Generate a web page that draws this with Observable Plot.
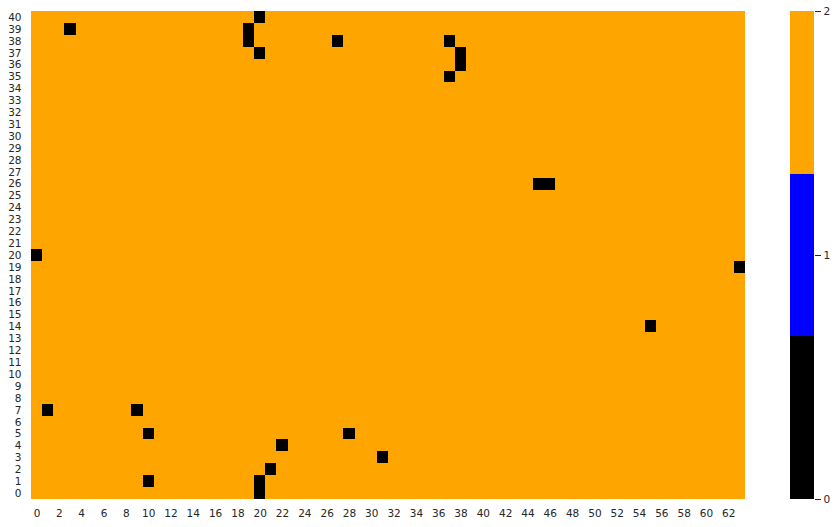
<!DOCTYPE html>
<html>
<head>
<meta charset="utf-8">
<script src="https://cdn.jsdelivr.net/npm/d3@7"></script>
<script src="https://cdn.jsdelivr.net/npm/@observablehq/plot@0.6"></script>
<style>
  html, body { margin: 0; padding: 0; background: #fff; }
  #wrap { position: relative; width: 837px; height: 527px; }
  #wrap svg { position: absolute; left: 0; top: 0; }
</style>
</head>
<body>
<div id="wrap"></div>
<script>
// Categories
const cols = d3.range(0, 64);
const rows = d3.range(0, 41);
const xTicks = d3.range(0, 64, 2);
// Cells whose value is 0 (all other cells are 2)
const zeroCells = [
  [20,40],[3,39],[19,39],[19,38],[20,37],[27,38],[37,38],[38,37],[38,36],[37,35],
  [45,26],[46,26],[0,20],[63,19],[55,14],
  [1,7],[9,7],[10,5],[28,5],[22,4],[31,3],[21,2],[10,1],[20,1],[20,0]
];
const baseValue = 2;
// Colour bar
const cbarValues = [0, 1, 2];
const cbarColors = ["#000000", "#0000ff", "#ffa500"];
const cbarTicks = [0, 1, 2];

const zeroSet = new Set(zeroCells.map(([c, r]) => c + "," + r));
const grid = rows.flatMap(r => cols.map(c => ({
  col: c, row: r, value: zeroSet.has(c + "," + r) ? 0 : baseValue
})));

const textStyle = {
  fontFamily: "DejaVu Sans, sans-serif",
  fontSize: "10.5px",
  color: "#262626",
  background: "transparent",
  overflow: "visible"
};

const main = Plot.plot({
  width: 837, height: 527,
  marginLeft: 31, marginRight: 92, marginTop: 11, marginBottom: 28,
  x: {type: "band", domain: cols, padding: 0, round: false},
  y: {type: "band", domain: rows.slice().reverse(), padding: 0, round: false},
  color: {type: "ordinal", domain: cbarValues, range: cbarColors},
  style: textStyle,
  marks: [
    Plot.cell(grid, {x: "col", y: "row", fill: "value", inset: 0, shapeRendering: "crispEdges"}),
    Plot.axisX(xTicks, {tickSize: 0, tickPadding: 10, label: null}),
    Plot.axisY({tickSize: 0, tickPadding: 10, label: null})
  ]
});

const step = 2 / 3;
const segments = cbarColors.map((c, i) => ({lo: i * step, hi: (i + 1) * step, color: c}));

const cbar = Plot.plot({
  width: 837, height: 527,
  marginLeft: 790, marginRight: 23, marginTop: 11, marginBottom: 28,
  x: {domain: [0, 1], axis: null},
  y: {domain: [0, 2]},
  style: textStyle,
  marks: [
    Plot.rect(segments, {x1: d => 0, x2: d => 1, y1: "lo", y2: "hi", fill: "color", shapeRendering: "crispEdges"}),
    Plot.axisY(cbarTicks, {anchor: "right", tickSize: 6, tickPadding: 3, label: null, tickFormat: d => String(d)})
  ]
});

const wrap = document.getElementById("wrap");
wrap.appendChild(main);
wrap.appendChild(cbar);
</script>
</body>
</html>
